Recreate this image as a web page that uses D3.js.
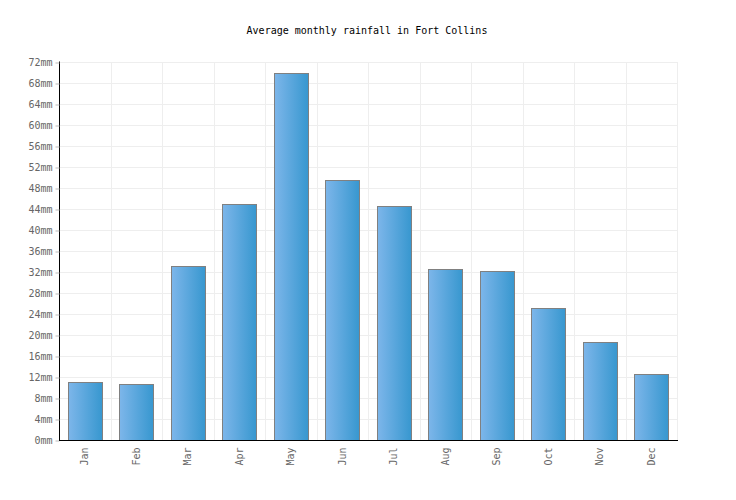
<!DOCTYPE html>
<html>
<head>
<meta charset="utf-8">
<script src="https://cdn.jsdelivr.net/npm/d3@7"></script>
<style>
  body { margin: 0; background: #fff; }
  text { font-family: "DejaVu Sans Mono", monospace; font-size: 10px; }
</style>
</head>
<body>
<svg width="736" height="500"></svg>
<script>
var months = ['Jan', 'Feb', 'Mar', 'Apr', 'May', 'Jun', 'Jul', 'Aug', 'Sep', 'Oct', 'Nov', 'Dec'];
var rainfall = [11.0, 10.6, 33.1, 44.9, 70.0, 49.5, 44.5, 32.5, 32.1, 25.1, 18.6, 12.5];
var yTicks = d3.range(0, 73, 4);

var svg = d3.select('svg'),
    pLeft = 59, pRight = 677, pTop = 62, pBottom = 440;

var x = d3.scaleBand().domain(months).range([pLeft, pRight]).padding(0),
    y = d3.scaleLinear().domain([0, 72]).range([pBottom, pTop]);

var grad = svg.append('defs').append('linearGradient')
    .attr('id', 'barGrad')
    .attr('x1', '0%').attr('x2', '100%').attr('y1', '0%').attr('y2', '0%');
grad.append('stop').attr('offset', '0%').attr('stop-color', '#7db6ea');
grad.append('stop').attr('offset', '100%').attr('stop-color', '#3797cf');

// grid
var grid = svg.append('g').attr('class', 'grid');
grid.selectAll('line.h')
  .data(yTicks.slice(1))
  .enter().append('line')
  .attr('x1', pLeft).attr('x2', pRight)
  .attr('y1', function(d){ return Math.round(y(d)) + 0.5; })
  .attr('y2', function(d){ return Math.round(y(d)) + 0.5; })
  .attr('stroke', '#eeeeee');
grid.selectAll('line.v')
  .data(months)
  .enter().append('line')
  .attr('x1', function(d){ return Math.round(x(d) + x.bandwidth()) + 0.5; })
  .attr('x2', function(d){ return Math.round(x(d) + x.bandwidth()) + 0.5; })
  .attr('y1', pTop).attr('y2', pBottom)
  .attr('stroke', '#eeeeee');

// bars
var bw = x.bandwidth() * 0.667;
svg.selectAll('rect.bar')
  .data(rainfall)
  .enter().append('rect')
  .attr('class', 'bar')
  .attr('x', function(d, i){ return Math.round(x(months[i]) + (x.bandwidth() - bw) / 2) + 0.5; })
  .attr('width', Math.round(bw))
  .attr('y', function(d){ return Math.round(y(d)) + 0.5; })
  .attr('height', function(d){ return pBottom - Math.round(y(d)); })
  .attr('fill', 'url(#barGrad)')
  .attr('stroke', '#808080')
  .attr('stroke-width', 1);

// y axis
var yAxis = svg.append('g')
  .attr('transform', 'translate(' + (pLeft + 0.5) + ',0.5)')
  .call(d3.axisLeft(y).tickValues(yTicks).tickSize(4).tickPadding(3)
    .tickFormat(function(d){ return d + 'mm'; }));
yAxis.select('.domain').attr('stroke', '#000').attr('d', 'M0,' + (pTop - 1) + 'V' + pBottom);
yAxis.selectAll('.tick line').attr('stroke', '#bbbbbb');
yAxis.selectAll('.tick text').attr('fill', '#666').style('font-size', '10px').style('font-family', '"DejaVu Sans Mono", monospace');

// x axis
var xAxis = svg.append('g')
  .attr('transform', 'translate(0,' + (pBottom + 0.5) + ')')
  .call(d3.axisBottom(x).tickSize(0).tickPadding(0));
xAxis.select('.domain').attr('stroke', '#000').attr('d', 'M' + pLeft + ',0H' + (pRight + 1));
xAxis.selectAll('.tick text')
  .attr('fill', '#666')
  .style('font-size', '10px').style('font-family', '"DejaVu Sans Mono", monospace')
  .attr('transform', 'rotate(-90)')
  .attr('text-anchor', 'end')
  .attr('x', -7).attr('y', 0).attr('dy', '0.35em');

// title
svg.append('text')
  .attr('x', 367).attr('y', 34)
  .attr('text-anchor', 'middle')
  .attr('fill', '#000')
  .text('Average monthly rainfall in Fort Collins');
</script>
</body>
</html>
